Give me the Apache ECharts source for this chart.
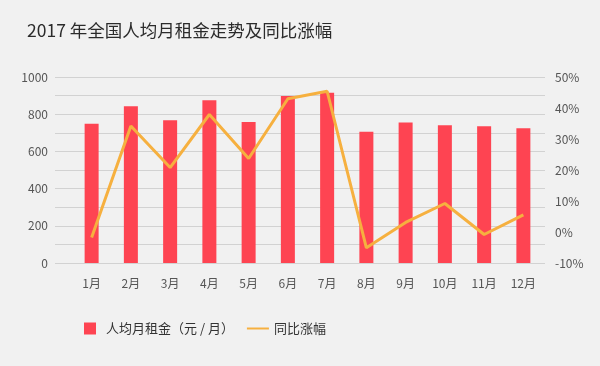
<!DOCTYPE html>
<html><head><meta charset="utf-8">
<script src="https://cdn.jsdelivr.net/npm/echarts@6/dist/echarts.min.js"></script>
<style>html,body{margin:0;padding:0;background:#f1f1f1;}#c{width:600px;height:366px;}</style>
</head><body><div id="c"></div>
<script>
var categories = ['1月','2月','3月','4月','5月','6月','7月','8月','9月','10月','11月','12月'];
var rentValues = [748, 843, 768, 875, 758, 898, 915, 705, 755, 740, 735, 725];
var yoyValues = [-1.8, 34.2, 20.8, 37.9, 23.7, 43.0, 45.4, -5.1, 3.1, 9.2, -0.8, 5.5];
var rentName = '人均月租金（元 / 月）';
var yoyName = '同比涨幅';
var titleText = '2017 年全国人均月租金走势及同比涨幅';

var font = '"Noto Sans CJK SC", "Noto Sans", sans-serif';
var chart = echarts.init(document.getElementById('c'));
chart.setOption({
  backgroundColor: '#f1f1f1',
  textStyle: {fontFamily: font},
  title: {text: titleText, left: 22, top: 17, textStyle: {fontSize: 17.5, fontWeight: 'normal', color: '#2b2b2b', fontFamily: font}},
  legend: {
    bottom: 26, left: 79, itemGap: 13, itemWidth: 22, itemHeight: 12,
    textStyle: {fontSize: 13, color: '#333', fontFamily: font},
    data: [
      {name: rentName, icon: 'path://M0,0 H10 V10 H0 Z'},
      {name: yoyName, icon: 'path://M0,0 H20 V1.8 H0 Z'}
    ]
  },
  grid: [
    {left: 72, right: 57, top: 77, bottom: 103},
    {left: 55, right: 55, top: 77, bottom: 103}
  ],
  xAxis: [
    {type: 'category', data: categories, gridIndex: 0,
     axisLine: {show: false}, axisTick: {show: false},
     axisLabel: {color: '#555', fontSize: 12, margin: 14, fontFamily: font}},
    {type: 'value', gridIndex: 1, show: false, min: 0, max: 1}
  ],
  yAxis: [
    {type: 'value', gridIndex: 0, min: 0, max: 1000, interval: 200,
     axisLine: {show: false}, axisTick: {show: false}, splitLine: {show: false},
     axisLabel: {color: '#555', fontSize: 12, margin: 24, fontFamily: font, formatter: function (v) { return String(v); }}},
    {type: 'value', gridIndex: 0, min: -10, max: 50, interval: 10, position: 'right',
     axisLine: {show: false}, axisTick: {show: false}, splitLine: {show: false},
     axisLabel: {color: '#555', fontSize: 12, margin: 12, formatter: '{value}%', fontFamily: font}},
    {type: 'value', gridIndex: 1, min: 0, max: 1000, interval: 100,
     axisLine: {show: false}, axisTick: {show: false}, axisLabel: {show: false},
     splitLine: {show: true, lineStyle: {color: '#d2d2d2', width: 1}}}
  ],
  series: [
    {name: rentName, type: 'bar', xAxisIndex: 0, yAxisIndex: 0, data: rentValues,
     barWidth: 14, itemStyle: {color: '#fe4452'}, z: 2},
    {name: yoyName, type: 'line', xAxisIndex: 0, yAxisIndex: 1, data: yoyValues,
     symbol: 'none', lineStyle: {color: '#f6b03f', width: 3}, itemStyle: {color: '#f6b03f'}, z: 3}
  ]
});
</script></body></html>
